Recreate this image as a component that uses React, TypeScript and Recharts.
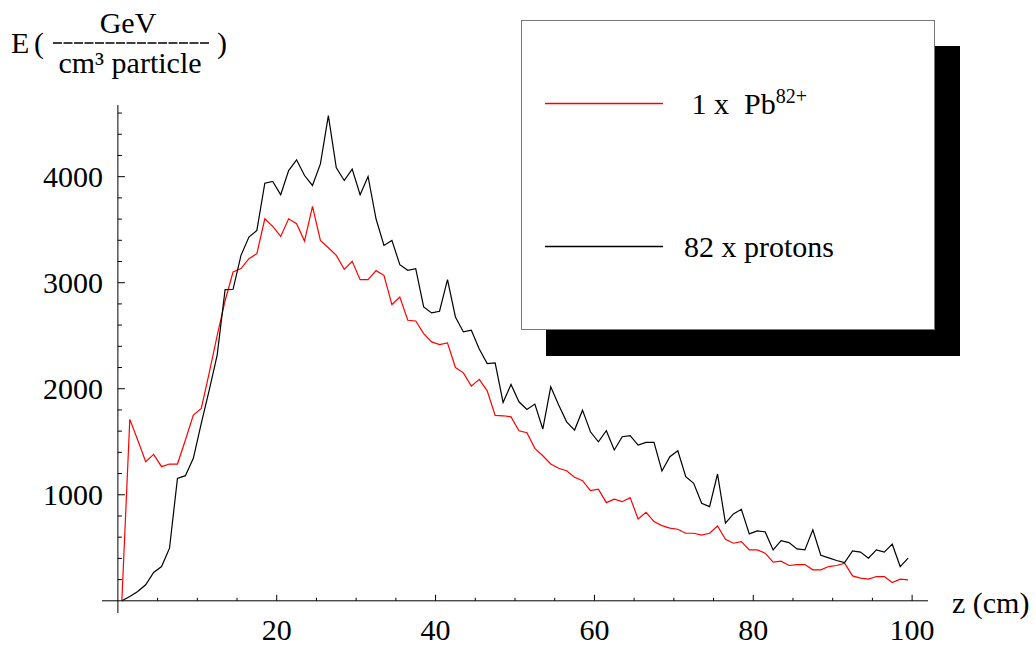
import { Legend, Line, LineChart, ReferenceLine, XAxis, YAxis } from "recharts";

// depth along the absorber (bin centres, cm)
const zCm = [
  0.5, 1.5, 2.5, 3.5, 4.5, 5.5, 6.5, 7.5, 8.5, 9.5,
  10.5, 11.5, 12.5, 13.5, 14.5, 15.5, 16.5, 17.5, 18.5, 19.5,
  20.5, 21.5, 22.5, 23.5, 24.5, 25.5, 26.5, 27.5, 28.5, 29.5,
  30.5, 31.5, 32.5, 33.5, 34.5, 35.5, 36.5, 37.5, 38.5, 39.5,
  40.5, 41.5, 42.5, 43.5, 44.5, 45.5, 46.5, 47.5, 48.5, 49.5,
  50.5, 51.5, 52.5, 53.5, 54.5, 55.5, 56.5, 57.5, 58.5, 59.5,
  60.5, 61.5, 62.5, 63.5, 64.5, 65.5, 66.5, 67.5, 68.5, 69.5,
  70.5, 71.5, 72.5, 73.5, 74.5, 75.5, 76.5, 77.5, 78.5, 79.5,
  80.5, 81.5, 82.5, 83.5, 84.5, 85.5, 86.5, 87.5, 88.5, 89.5,
  90.5, 91.5, 92.5, 93.5, 94.5, 95.5, 96.5, 97.5, 98.5, 99.5,
];

// 1 x Pb82+ (red)
const pbEnergy = [
  0, 1711, 1516, 1312, 1381, 1265, 1290, 1290, 1516, 1751,
  1814, 2150, 2500, 2830, 3101, 3133, 3227, 3274, 3603, 3531,
  3437, 3603, 3556, 3393, 3720, 3399, 3330, 3258, 3126, 3202,
  3029, 3029, 3114, 3070, 2794, 2865, 2646, 2639, 2520, 2442,
  2417, 2432, 2200, 2150, 2025, 2088, 1980, 1748, 1745, 1735,
  1604, 1585, 1438, 1368, 1290, 1250, 1227, 1165, 1133, 1039,
  1052, 926, 958, 935, 973, 772, 835, 747, 709, 685,
  675, 637, 637, 619, 637, 706, 581, 543, 558, 480,
  480, 449, 364, 374, 333, 342, 342, 292, 292, 323,
  333, 355, 235, 214, 204, 229, 229, 172, 204, 198,
];

// 82 x protons (black)
const protonEnergy = [
  0, 40, 88, 151, 267, 323, 496, 1155, 1180, 1344,
  1673, 1987, 2316, 2935, 2938, 3258, 3430, 3493, 3939, 3955,
  3830, 4058, 4159, 4011, 3917, 4121, 4576, 4083, 3964, 4071,
  3830, 4002, 3603, 3352, 3399, 3170, 3117, 3133, 2771, 2715,
  2731, 3029, 2677, 2536, 2552, 2375, 2238, 2244, 1871, 2040,
  1877, 1805, 1855, 1620, 2018, 1846, 1688, 1610, 1798, 1594,
  1500, 1604, 1422, 1547, 1557, 1469, 1494, 1494, 1224, 1359,
  1415, 1170, 1108, 920, 888, 1196, 732, 819, 863, 631,
  659, 650, 480, 568, 549, 490, 480, 669, 430, 405,
  380, 361, 471, 459, 402, 480, 459, 534, 323, 402,
];

const xTicks = [5, 10, 15, 20, 25, 30, 35, 40, 45, 50, 55, 60, 65, 70, 75, 80, 85, 90, 95, 100];
const yTicks = [
  200, 400, 600, 800, 1000, 1200, 1400, 1600, 1800, 2000, 2200, 2400,
  2600, 2800, 3000, 3200, 3400, 3600, 3800, 4000, 4200, 4400, 4600,
];
const xLabelled = [20, 40, 60, 80, 100];
const yLabelled = [1000, 2000, 3000, 4000];

const PB_RED = "#ff0000";
const PROTON_BLACK = "#000000";
const legendLabels: Record<string, { main: string; sup: string }> = {
  pb: { main: " 1 x  Pb", sup: "82+" },
  protons: { main: "82 x protons", sup: "" },
};

const data = zCm.map((z, i) => ({ z, pb: pbEnergy[i], protons: protonEnergy[i] }));

const FONT = "Liberation Serif, serif";
const W = 1035;
const H = 646;
const MARGIN = { top: 105, right: 107, bottom: 3, left: 42 };
const Y_AXIS_W = 60;
const X_AXIS_H = 30;
const X_DOMAIN: [number, number] = [-2, 102];
const Y_DOMAIN: [number, number] = [-115, 4676];

const plotLeft = MARGIN.left + Y_AXIS_W;
const plotTop = MARGIN.top;
const plotW = W - plotLeft - MARGIN.right;
const plotH = H - MARGIN.top - MARGIN.bottom - X_AXIS_H;
// where the axes cross (z = 0, E = 0)
const originX = plotLeft + (plotW * (0 - X_DOMAIN[0])) / (X_DOMAIN[1] - X_DOMAIN[0]);
const originY = plotTop + (plotH * Y_DOMAIN[1]) / (Y_DOMAIN[1] - Y_DOMAIN[0]);

function XTick(props: any) {
  const { x, payload } = props;
  const v = payload.value;
  const major = xLabelled.includes(v);
  return (
    <g>
      <line x1={x} x2={x} y1={originY} y2={originY - (major ? 6 : 3)} stroke="#000" />
      {major && (
        <text x={x} y={originY + 39} textAnchor="middle" fontFamily={FONT} fontSize={30} fill="#000">
          {v}
        </text>
      )}
    </g>
  );
}

function YTick(props: any) {
  const { y, payload } = props;
  const v = payload.value;
  const major = yLabelled.includes(v);
  return (
    <g>
      <line x1={originX} x2={originX + (major ? 7 : 4)} y1={y} y2={y} stroke="#000" />
      {major && (
        <text x={originX - 15} y={y} dy="0.35em" textAnchor="end" fontFamily={FONT} fontSize={30} fill="#000">
          {v}
        </text>
      )}
    </g>
  );
}

function YTitle() {
  return (
    <g fontFamily={FONT} fontSize={30} fill="#000">
      <text x={11} y={53}>E</text>
      <text x={34} y={53}>(</text>
      <text x={128} y={33} textAnchor="middle">GeV</text>
      <line x1={53} x2={210} y1={43} y2={43} stroke="#000" strokeWidth={1.5} strokeDasharray="9 1.5" />
      <text x={130} y={73} textAnchor="middle">cm³ particle</text>
      <text x={217} y={53}>)</text>
    </g>
  );
}

function XTitle() {
  return (
    <text x={plotLeft + plotW + 24} y={613} fontFamily={FONT} fontSize={30} fill="#000">
      z (cm)
    </text>
  );
}

const LEGEND_ROWS = [82.5, 225.5];

function LegendBox(props: any) {
  const payload = props.payload || [];
  return (
    <div
      style={{
        width: 414,
        height: 310,
        boxSizing: "border-box",
        border: "1px solid #777",
        background: "#fff",
        boxShadow: "25px 26px 0 0 #000",
      }}
    >
      <svg width={412} height={308} style={{ display: "block" }}>
        {payload.map((entry: any, i: number) => {
          const rowY = LEGEND_ROWS[i];
          const key = String(entry.dataKey);
          const label = legendLabels[key] || { main: entry.value, sup: "" };
          return (
            <g key={key}>
              <line x1={23} x2={141} y1={rowY} y2={rowY} stroke={entry.color} strokeWidth={1.5} />
              <text
                x={162}
                y={rowY + 10.5}
                fontFamily={FONT}
                fontSize={30}
                fill="#000"
                style={{ whiteSpace: "pre" }}
                xmlSpace="preserve"
              >
                {label.main}
                {label.sup && (
                  <tspan fontSize={20} dy={-11}>
                    {label.sup}
                  </tspan>
                )}
              </text>
            </g>
          );
        })}
      </svg>
    </div>
  );
}

export default function App() {
  return (
    <div style={{ position: "fixed", left: 0, top: 0, width: W, height: H, background: "#fff" }}>
      <LineChart width={W} height={H} data={data} margin={MARGIN}>
        <XAxis
          dataKey="z"
          type="number"
          domain={X_DOMAIN}
          allowDataOverflow
          ticks={xTicks}
          interval={0}
          height={X_AXIS_H}
          axisLine={false}
          tickLine={false}
          tick={<XTick />}
          label={{ content: () => <XTitle /> }}
        />
        <YAxis
          type="number"
          domain={Y_DOMAIN}
          allowDataOverflow
          ticks={yTicks}
          interval={0}
          width={Y_AXIS_W}
          axisLine={false}
          tickLine={false}
          tick={<YTick />}
          label={{ content: () => <YTitle /> }}
        />
        <ReferenceLine x={0} stroke="#000" strokeWidth={1} />
        <ReferenceLine y={0} stroke="#000" strokeWidth={1} />
        <Line
          dataKey="pb"
          name="1 x Pb82+"
          type="linear"
          stroke={PB_RED}
          strokeWidth={1.2}
          dot={false}
          isAnimationActive={false}
        />
        <Line
          dataKey="protons"
          name="82 x protons"
          type="linear"
          stroke={PROTON_BLACK}
          strokeWidth={1.2}
          dot={false}
          isAnimationActive={false}
        />
        <Legend
          layout="vertical"
          align="center"
          verticalAlign="middle"
          content={<LegendBox />}
          wrapperStyle={{ left: 521, top: 20, width: 414, height: 310 }}
        />
      </LineChart>
    </div>
  );
}
